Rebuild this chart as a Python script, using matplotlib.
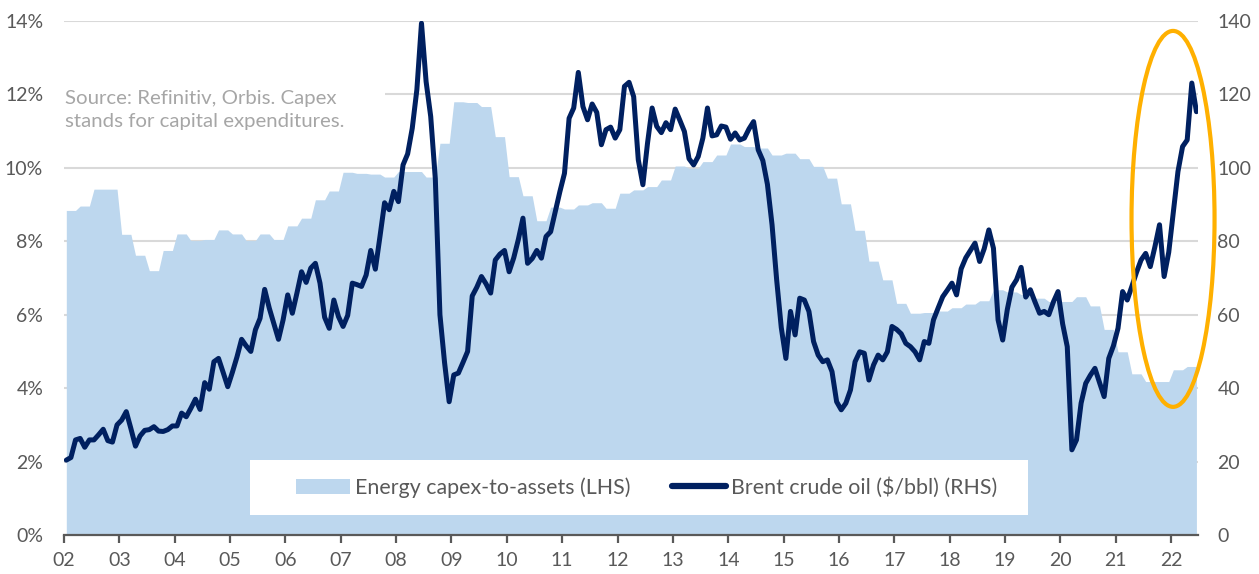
import numpy as np
import matplotlib
matplotlib.use("Agg")
import matplotlib.pyplot as plt
from matplotlib.patches import Ellipse, Rectangle, Patch
from matplotlib.lines import Line2D

plt.rcParams['font.family'] = ['Lato', 'DejaVu Sans']

# year ticks
years = list(range(2002, 2023))
year_labels = ["%02d" % (y % 100) for y in years]

# energy capex-to-assets (%), quarterly, 2002Q1 .. 2022Q2
capex_q = [8.84, 8.96, 9.42, 9.42, 8.19, 7.62, 7.20, 7.75,
           8.20, 8.02, 8.05, 8.31, 8.20, 8.02, 8.20, 8.05,
           8.42, 8.63, 9.13, 9.37, 9.88, 9.85, 9.83, 9.75,
           9.90, 9.90, 9.75, 10.67, 11.80, 11.78, 11.67, 10.85,
           9.76, 9.24, 8.56, 8.93, 8.88, 8.99, 9.05, 8.90,
           9.31, 9.40, 9.49, 9.67, 10.05, 9.99, 10.17, 10.35,
           10.65, 10.58, 10.54, 10.35, 10.40, 10.25, 10.04, 9.72,
           9.02, 8.30, 7.46, 6.95, 6.31, 6.04, 6.06, 6.10,
           6.19, 6.29, 6.38, 6.68, 6.62, 6.55, 6.45, 6.36,
           6.36, 6.49, 6.24, 5.60, 4.99, 4.39, 4.18, 4.18,
           4.50, 4.59]

# Brent crude oil ($/bbl), monthly, Jan 2002 .. Jun 2022
brent = [20.4, 21.1, 25.9, 26.3, 23.9, 25.9, 25.9, 27.3, 28.8, 25.7, 25.3, 30.0,   # 02
         31.3, 33.6, 29.0, 24.2, 27.0, 28.5, 28.7, 29.5, 28.3, 28.2, 28.7, 29.7,   # 03
         29.7, 33.2, 32.2, 34.5, 37.0, 34.2, 41.5, 39.7, 47.2, 48.1, 44.3, 40.4,   # 04
         44.3, 48.5, 53.3, 51.5, 50.0, 55.9, 59.0, 66.9, 61.8, 57.5, 53.3, 58.6,   # 05
         65.4, 60.4, 65.9, 71.7, 68.8, 72.7, 74.0, 68.6, 59.3, 56.3, 64.0, 59.5,   # 06
         56.8, 59.8, 68.6, 68.2, 67.7, 70.8, 77.5, 72.4, 81.3, 90.5, 88.6, 93.6,   # 07
         90.8, 100.8, 103.8, 110.8, 121.3, 139.4, 123.5, 114.0, 97.0, 60.0, 47.0, 36.3,  # 08
         43.6, 44.1, 47.0, 50.0, 65.1, 67.5, 70.4, 68.4, 65.9, 74.9, 76.5, 77.5,   # 09
         71.7, 75.5, 80.5, 86.3, 74.0, 75.3, 77.5, 75.4, 81.3, 82.6, 88.0, 93.5,   # 10
         98.5, 113.5, 116.3, 126.0, 116.7, 113.1, 117.4, 115.1, 106.3, 110.4, 111.1, 108.1,  # 11
         110.4, 122.2, 123.3, 119.4, 102.2, 95.4, 106.7, 116.3, 111.3, 109.6, 112.3, 110.4,  # 12
         116.0, 113.0, 109.9, 102.5, 100.8, 103.1, 108.1, 116.3, 108.7, 109.0, 111.4, 111.1,  # 13
         107.8, 109.5, 107.6, 108.1, 110.6, 112.6, 104.9, 102.0, 95.5, 84.5, 69.5, 56.5,  # 14
         48.1, 60.9, 54.5, 64.5, 64.0, 60.9, 52.7, 49.0, 47.2, 47.7, 44.5, 36.3,   # 15
         34.1, 35.9, 39.5, 47.2, 49.9, 49.5, 42.2, 46.3, 49.0, 47.7, 49.9, 56.8,   # 16
         56.0, 54.8, 52.2, 51.3, 49.9, 47.7, 52.7, 52.2, 58.6, 61.8, 64.9, 66.7,   # 17
         68.6, 65.4, 72.5, 75.5, 77.5, 79.5, 74.5, 78.0, 83.1, 78.1, 58.6, 53.1,   # 18
         61.4, 67.5, 69.5, 72.9, 64.8, 66.8, 63.5, 60.4, 60.9, 60.0, 63.5, 66.3,   # 19
         57.5, 51.3, 23.2, 25.9, 35.9, 41.3, 43.5, 45.4, 41.5, 37.7, 48.1, 51.5,   # 20
         56.3, 66.3, 64.0, 67.7, 71.5, 74.9, 76.7, 73.1, 78.5, 84.5, 70.4, 77.0,   # 21
         88.0, 99.0, 105.8, 107.6, 123.1, 115.3]                                   # 22

capex_label = "Energy capex-to-assets (LHS)"
brent_label = "Brent crude oil ($/bbl) (RHS)"
source_text = "Source: Refinitiv, Orbis. Capex\nstands for capital expenditures."

area_col = "#BDD7EE"
line_col = "#002060"
grey = "#595959"

# monthly time axis (mid-month), quarterly capex held for three months
x = 2002 + (np.arange(len(brent)) + 0.5) / 12.0
capex = np.repeat(capex_q, 3)

fig = plt.figure(figsize=(12.59, 5.74), dpi=100)
ax = fig.add_axes([64/1259, 39/574, 1134/1259, 514/574])
ax2 = ax.twinx()

ax.fill_between(x, 0, capex, color=area_col, lw=0, zorder=1)
ax.set_xlim(2002, 2022.487)
ax.set_ylim(0, 14)
ax.set_yticks(range(0, 15, 2))
ax.set_yticklabels(["%d%%" % v for v in range(0, 15, 2)])
ax.set_xticks(years)
ax.set_xticklabels(year_labels)
ax.grid(axis="y", color="#D9D9D9", lw=1.5)
ax.set_axisbelow(True)

ax2.plot(x, brent, color=line_col, lw=3.6, solid_joinstyle="round",
         solid_capstyle="round", zorder=3)
ax2.set_ylim(0, 140)
ax2.set_yticks(range(0, 141, 20))

for a in (ax, ax2):
    for s in ("top", "left", "right"):
        a.spines[s].set_visible(False)
ax2.spines["bottom"].set_visible(False)
ax.spines["bottom"].set_color(grey)
ax.spines["bottom"].set_linewidth(1.6)
ax.spines["bottom"].set_zorder(3)

ax.tick_params(axis="y", length=0, pad=15, labelsize=14, labelcolor=grey)
ax2.tick_params(axis="y", length=0, pad=14, labelsize=14, labelcolor=grey)
ax.tick_params(axis="x", length=6, width=1.6, color=grey, pad=6,
               labelsize=14, labelcolor=grey)

# source note on white box
ax.add_patch(Rectangle((0, 0.762), 0.283, 0.11, transform=ax.transAxes,
                       facecolor="white", edgecolor="none", zorder=1.5))
ax.text(0.001, 0.865, source_text, transform=ax.transAxes, ha="left", va="top",
        fontsize=14.7, color="#A6A6A6", linespacing=1.4, zorder=2)

# legend on white box
ax2.add_patch(Rectangle((0.164, 0.039), 0.686, 0.107, transform=ax2.transAxes,
                        facecolor="white", edgecolor="none", zorder=4))
handles = [Patch(facecolor=area_col, edgecolor="none"),
           Line2D([], [], color=line_col, lw=4.5, solid_capstyle="round")]
leg = ax2.legend(handles, [capex_label, brent_label], loc="center",
                 bbox_to_anchor=(0.514, 0.0924), ncol=2, frameon=False,
                 fontsize=15.4, handlelength=2.5, handletextpad=0.25,
                 columnspacing=1.95, labelcolor=grey)
leg.set_zorder(5)

# highlight of the latest rise
ax2.add_patch(Ellipse((2022.036, 86.1), 1.5, 102.4, fill=False,
                      edgecolor="#FFB000", lw=3, clip_on=False, zorder=6))

plt.savefig("out.png", dpi=100)
